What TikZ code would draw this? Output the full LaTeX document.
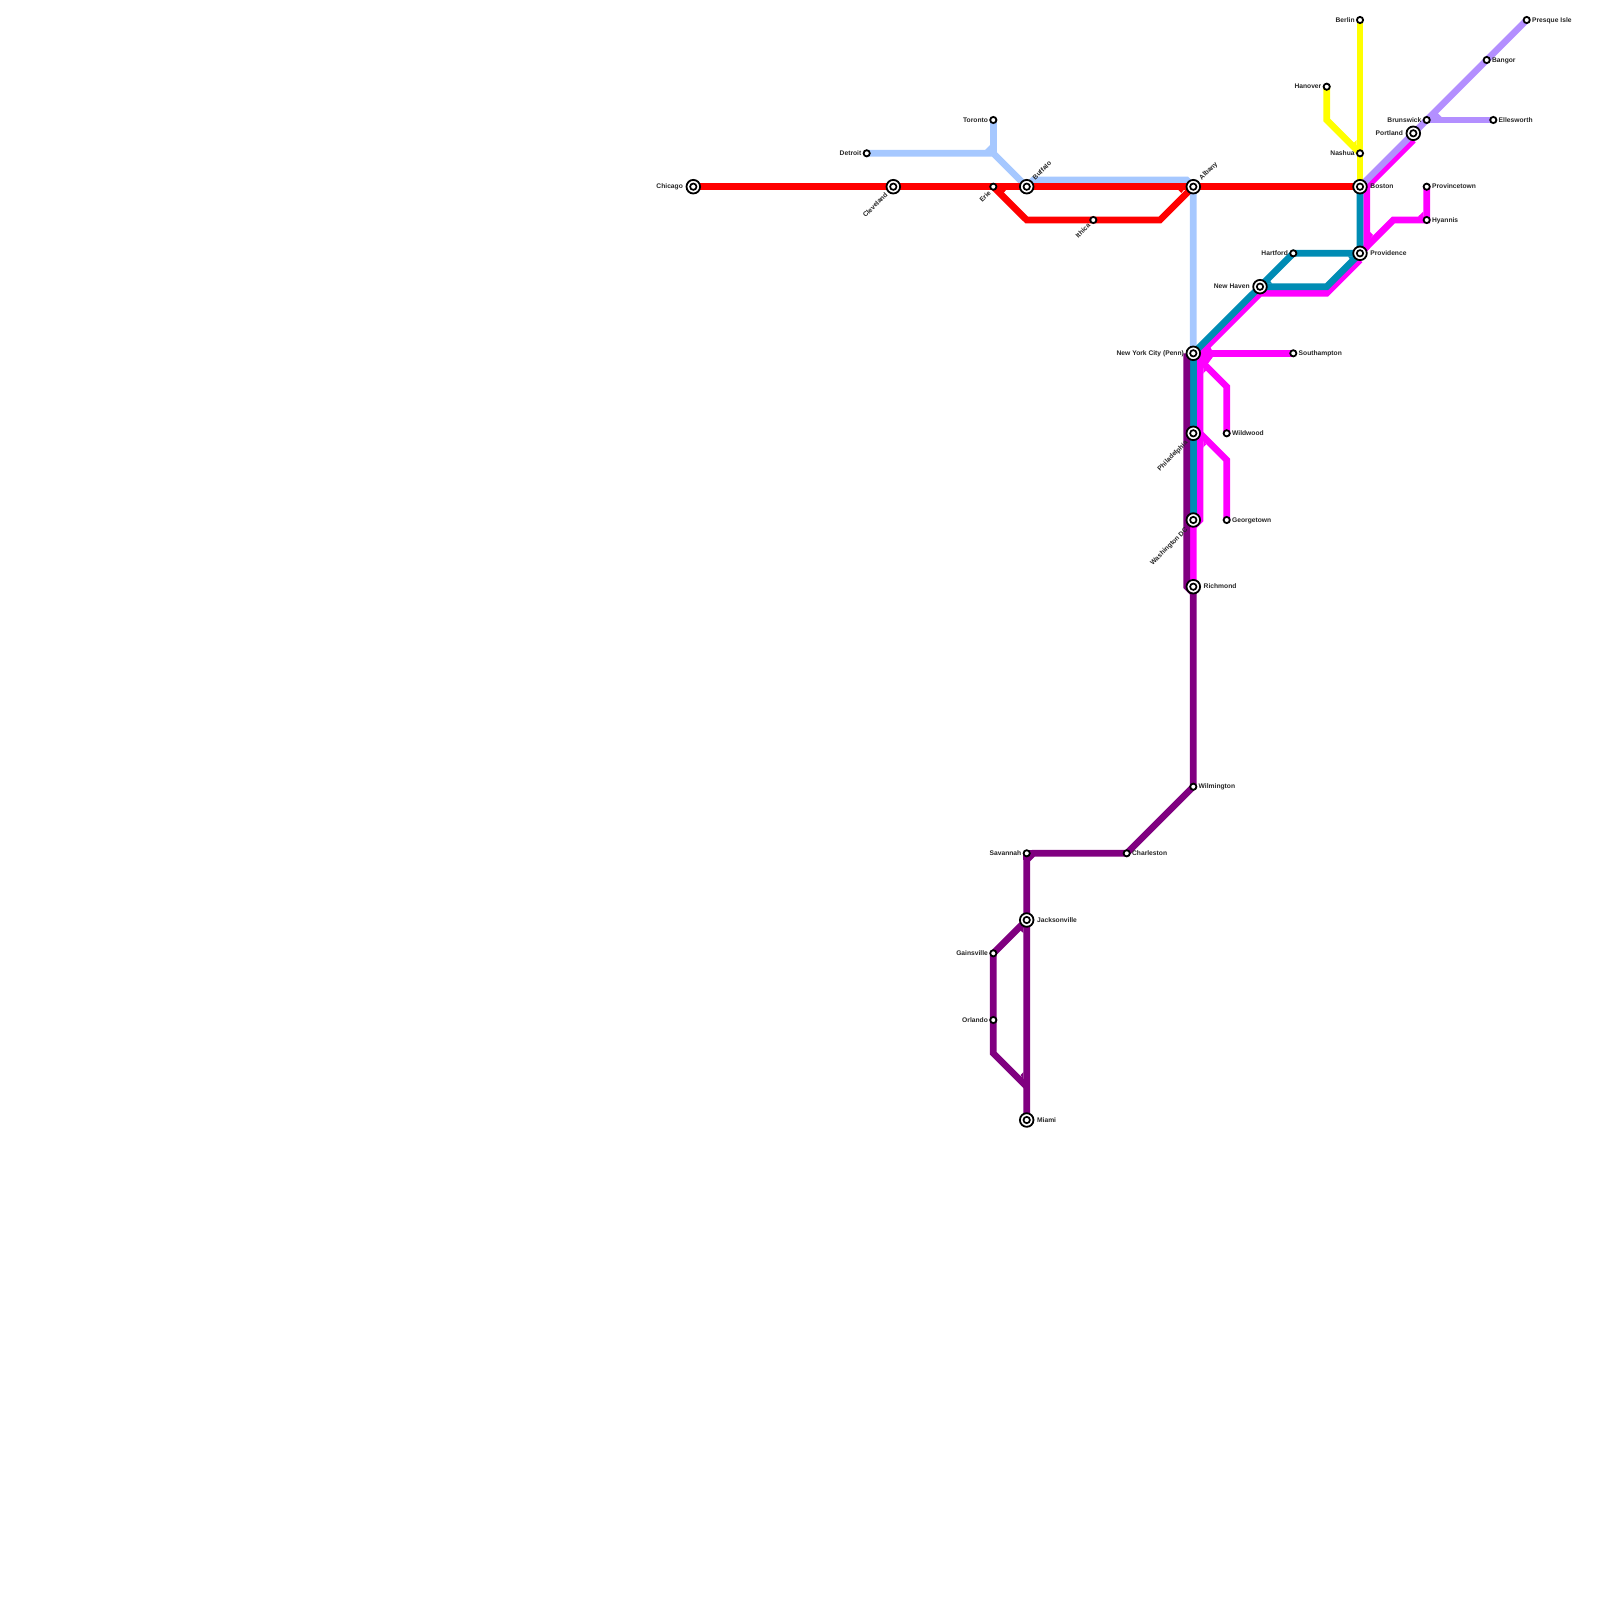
\documentclass[tikz,border=0pt]{standalone}
\usepackage{fontspec}
\setmainfont{Liberation Sans}
\pgfdeclarelayer{lines}
\pgfsetlayers{lines,main}
\definecolor{lineRed}{HTML}{FF0000}
\definecolor{lineYellow}{HTML}{FFFF00}
\definecolor{lineMag}{HTML}{FF00FF}
\definecolor{lineLight}{HTML}{A6C8FF}
\definecolor{lineLav}{HTML}{B38FFF}
\definecolor{lineTeal}{HTML}{008CB4}
\definecolor{linePurple}{HTML}{800080}
\tikzset{
  route/.style={line width=3.33pt,miter limit=10},
  stop/.style={circle,draw=black,fill=white,line width=.9pt,minimum size=3.1pt,inner sep=0pt},
  hub/.style={circle,draw=black,fill=white,line width=.9pt,minimum size=6.8pt,inner sep=0pt,
    path picture={\draw[line width=.85pt] (path picture bounding box.center) circle (1.6pt);}},
  txt/.style={inner sep=0pt,text=black!85,font=\fontsize{3.35pt}{4pt}\selectfont\bfseries},
  lblE/.style={txt,anchor=base west},
  lblW/.style={txt,anchor=base east},
  lblNE/.style={txt,anchor=base west,rotate=45},
  lblSW/.style={txt,anchor=base east,rotate=45},
}
\begin{document}
\begin{tikzpicture}[x=.5pt,y=-.5pt]
\useasboundingbox (0,0) rectangle (1600,1600);
% stations
\node[hub]  (chi) at (693.3,186.7) {};
\node[hub]  (cle) at (893.3,186.7) {};
\node[stop] (det) at (866.7,153.3) {};
\node[stop] (tor) at (993.3,120) {};
\node[stop] (eri) at (993.3,186.7) {};
\node[hub]  (buf) at (1026.7,186.7) {};
\node[hub]  (alb) at (1193.3,186.7) {};
\node[stop] (ith) at (1093.3,220) {};
\node[hub]  (bos) at (1360,186.7) {};
\node[hub]  (pro) at (1360,253.3) {};
\node[stop] (ber) at (1360,20) {};
\node[stop] (han) at (1326.7,86.7) {};
\node[stop] (nas) at (1360,153.3) {};
\node[hub]  (por) at (1413.3,133.3) {};
\node[stop] (bru) at (1426.7,120) {};
\node[stop] (pre) at (1526.7,20) {};
\node[stop] (ban) at (1486.7,60) {};
\node[stop] (ell) at (1493.3,120) {};
\node[stop] (ptw) at (1426.7,186.7) {};
\node[stop] (hya) at (1426.7,220) {};
\node[stop] (har) at (1293.3,253.3) {};
\node[hub]  (nhv) at (1260,286.7) {};
\node[stop] (sou) at (1293.3,353.3) {};
\node[hub]  (nyc) at (1193.3,353.3) {};
\node[stop] (wil) at (1226.7,433.3) {};
\node[hub]  (phi) at (1193.3,433.3) {};
\node[stop] (geo) at (1226.7,520) {};
\node[hub]  (was) at (1193.3,520) {};
\node[hub]  (ric) at (1193.3,586.7) {};
\node[stop] (wmt) at (1193.3,786.7) {};
\node[stop] (cha) at (1126.7,853.3) {};
\node[stop] (sav) at (1026.7,853.3) {};
\node[hub]  (jac) at (1026.7,920) {};
\node[stop] (gai) at (993.3,953.3) {};
\node[stop] (orl) at (993.3,1020) {};
\node[hub]  (mia) at (1026.7,1120) {};
% bends
\coordinate (tj) at (993.3,153.3);
\coordinate (b1) at (1033.3,180);
\coordinate (b2) at (1186.7,180);
\coordinate (r1) at (1026.7,220);
\coordinate (r2) at (1160,220);
\coordinate (y1) at (1326.7,120);
\coordinate (l1) at (1433.3,113.3);
\coordinate (l2) at (1440,120);
\coordinate (m1) at (1413.3,140);
\coordinate (m2) at (1366.7,186.7);
\coordinate (m3) at (1366.7,246.7);
\coordinate (m4) at (1393.3,220);
\coordinate (m7) at (1326.7,293.3);
\coordinate (m8) at (1260,293.3);
\coordinate (m9) at (1200,353.3);
\coordinate (m10) at (1200,360);
\coordinate (m11) at (1226.7,386.7);
\coordinate (m12) at (1200,433.3);
\coordinate (m13) at (1226.7,460);
\coordinate (m14) at (1200,520);
\coordinate (m14b) at (1193.3,526.7);
\coordinate (m15) at (1360,260);
\coordinate (t1) at (1326.7,286.7);
\coordinate (p1) at (1186.7,353.3);
\coordinate (p2) at (1186.7,586.7);
\coordinate (p2b) at (1193.3,593.3);
\coordinate (p3) at (1033.3,853.3);
\coordinate (p4) at (1026.7,860);
\coordinate (p5) at (993.3,1053.3);
\coordinate (p6) at (1026.7,1086.7);
% lines
\begin{pgfonlayer}{lines}
\fill[white] (0,0) rectangle (1600,1600);
\draw[route,lineLight] (det.center) -- (tj) -- (buf.center);
\draw[route,lineLight] (tor.center) -- (tj);
\fill[lineLight] (985,150) -- (990,145) -- (990,150) -- cycle;
\draw[route,lineLight] (buf.center) -- (b1) -- (b2) -- (alb.center) -- (nyc.center);
\draw[route,lineRed] (chi.center) -- (bos.center);
\draw[route,lineRed] (eri.center) -- (r1) -- (ith.center) -- (r2) -- (alb.center);
\fill[lineRed] (1001,190) -- (1006,190) -- (1003.5,193) -- cycle;
\fill[lineRed] (1178.3,190) -- (1183.7,190) -- (1181.3,193) -- cycle;
\draw[route,lineYellow] (ber.center) -- (bos.center);
\draw[route,lineYellow] (han.center) -- (y1) -- (nas.center);
\fill[lineYellow] (1356.7,140) -- (1352.5,144.2) -- (1356.7,147) -- cycle;
\draw[route,lineMag] (m1) -- (m2) -- (m3) -- (pro.center);
\draw[route,lineMag] (m15) -- (m7) -- (m8) -- (m9) -- (m14) -- (m14b) -- (ric.center);
\draw[route,lineMag] (pro.center) -- (m4) -- (hya.center) -- (ptw.center);
\draw[route,lineMag] (m9) -- (sou.center);
\draw[route,lineMag] (m10) -- (m11) -- (wil.center);
\draw[route,lineMag] (m12) -- (m13) -- (geo.center);
\fill[lineMag] (1370,232) -- (1373,235) -- (1370,239) -- cycle;
\fill[lineMag] (1418,216.7) -- (1423.3,211.5) -- (1423.3,217) -- cycle;
\fill[lineMag] (1207,350.7) -- (1212,350.3) -- (1209.7,346) -- cycle;
\fill[lineMag] (1200,356.4) -- (1213.3,356.4) -- (1208,363.5) -- cycle;
\fill[lineMag] (1203.3,373.5) -- (1206,370.5) -- (1203.3,364) -- cycle;
\fill[lineMag] (1203.3,447.5) -- (1206,444.5) -- (1203.3,438) -- cycle;
\draw[route,lineTeal] (nyc.center) -- (nhv.center) -- (har.center) -- (pro.center) -- (bos.center);
\draw[route,lineTeal] (nhv.center) -- (t1) -- (pro.center);
\draw[route,lineTeal] (nyc.center) -- (was.center);
\fill[lineTeal] (1267.5,283.6) -- (1272,283.6) -- (1269.5,280) -- cycle;
\fill[lineTeal] (1352.5,256.4) -- (1348,256.4) -- (1350.5,260) -- cycle;
\draw[route,lineLav] (bos.center) -- (pre.center);
\draw[route,lineLav] (bru.center) -- (ell.center);
\draw[route,lineLav] (l1) -- (l2);
\draw[route,linePurple] (p1) -- (p2) -- (p2b) -- (wmt.center) -- (cha.center) -- (p3) -- (p4) -- (mia.center);
\draw[route,linePurple] (sav.center) -- (p3);
\draw[route,linePurple] (sav.center) -- (p4);
\draw[route,linePurple] (jac.center) -- (gai.center) -- (p5) -- (p6);
\fill[linePurple] (1023.4,1072) -- (1020.7,1075) -- (1023.4,1080) -- cycle;
\fill[linePurple] (1023.4,933) -- (1020.5,930.5) -- (1023.4,925) -- cycle;
\end{pgfonlayer}
% labels
\node[lblW] (tchi) at ([shift={(-10,2.1)}]chi.center) {Chicago};
\node[lblSW] (tcle) at ([shift={(-5,8.4)}]cle.center) {Cleveland};
\node[lblW] (tdet) at ([shift={(-5,2.1)}]det.center) {Detroit};
\node[lblW] (ttor) at ([shift={(-5,2.1)}]tor.center) {Toronto};
\node[lblSW] (teri) at ([shift={(-1.8,6.7)}]eri.center) {Erie};
\node[lblNE] (tbuf) at ([shift={(8.4,-6)}]buf.center) {Buffalo};
\node[lblNE] (talb) at ([shift={(8.4,-6)}]alb.center) {Albany};
\node[lblSW] (tith) at ([shift={(-2.3,5.7)}]ith.center) {Ithica};
\node[lblE] (tbos) at ([shift={(10,2.1)}]bos.center) {Boston};
\node[lblE] (tpro) at ([shift={(10,2.1)}]pro.center) {Providence};
\node[lblW] (tber) at ([shift={(-5,2.1)}]ber.center) {Berlin};
\node[lblW] (than) at ([shift={(-5,2.1)}]han.center) {Hanover};
\node[lblW] (tnas) at ([shift={(-5,2.1)}]nas.center) {Nashua};
\node[lblW] (tpor) at ([shift={(-10,2.1)}]por.center) {Portland};
\node[lblW] (tbru) at ([shift={(-5,2.1)}]bru.center) {Brunswick};
\node[lblE] (tpre) at ([shift={(5,2.1)}]pre.center) {Presque Isle};
\node[lblE] (tban) at ([shift={(5,2.1)}]ban.center) {Bangor};
\node[lblE] (tell) at ([shift={(5,2.1)}]ell.center) {Ellesworth};
\node[lblE] (tptw) at ([shift={(5,2.1)}]ptw.center) {Provincetown};
\node[lblE] (thya) at ([shift={(5,2.1)}]hya.center) {Hyannis};
\node[lblW] (thar) at ([shift={(-5,2.1)}]har.center) {Hartford};
\node[lblW] (tnhv) at ([shift={(-10,2.1)}]nhv.center) {New Haven};
\node[lblE] (tsou) at ([shift={(5,2.1)}]sou.center) {Southampton};
\node[lblW] (tnyc) at ([shift={(-9,2.1)}]nyc.center) {New York City (Penn)};
\node[lblE] (twil) at ([shift={(5,2.1)}]wil.center) {Wildwood};
\node[lblSW] (tphi) at ([shift={(-5,9.7)}]phi.center) {Philadelphia};
\node[lblE] (tgeo) at ([shift={(5,2.1)}]geo.center) {Georgetown};
\node[lblSW] (twas) at ([shift={(-5,10)}]was.center) {Washington DC};
\node[lblE] (tric) at ([shift={(10,2.1)}]ric.center) {Richmond};
\node[lblE] (twmt) at ([shift={(5,2.1)}]wmt.center) {Wilmington};
\node[lblE] (tcha) at ([shift={(5,2.1)}]cha.center) {Charleston};
\node[lblW] (tsav) at ([shift={(-5,2.1)}]sav.center) {Savannah};
\node[lblE] (tjac) at ([shift={(10,2.1)}]jac.center) {Jacksonville};
\node[lblW] (tgai) at ([shift={(-5,2.1)}]gai.center) {Gainsville};
\node[lblW] (torl) at ([shift={(-5,2.1)}]orl.center) {Orlando};
\node[lblE] (tmia) at ([shift={(10,2.1)}]mia.center) {Miami};
\end{tikzpicture}
\end{document}
